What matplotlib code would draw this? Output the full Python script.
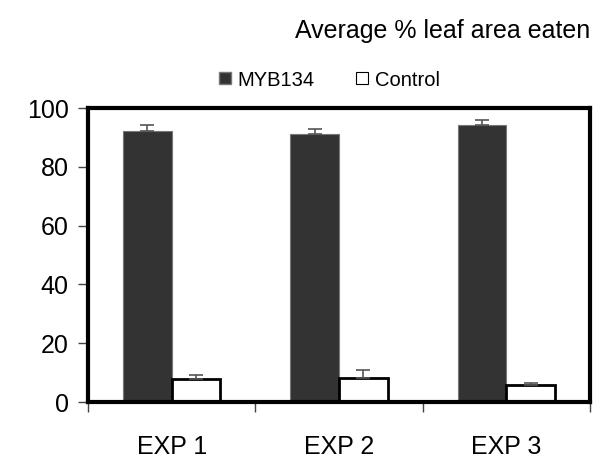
import matplotlib
matplotlib.use("Agg")
import matplotlib.pyplot as plt
from matplotlib.lines import Line2D
import numpy as np

plt.rcParams['font.family'] = ['Liberation Sans', 'DejaVu Sans']

categories = ["EXP 1", "EXP 2", "EXP 3"]
myb134 = [92.2, 91.2, 94.2]
myb134_err = [2.0, 1.8, 1.7]
control = [7.8, 8.3, 5.9]
control_err = [1.3, 2.7, 0.7]
y_ticks = [0, 20, 40, 60, 80, 100]

fig = plt.figure(figsize=(6.02, 4.59), dpi=100)
ax = fig.add_axes([88/602, 1 - 402/459, 502/602, 294/459])

x = np.arange(len(categories)) + 0.5
w = 0.29

ax.bar(x - w/2, myb134, width=w, color="#333333", edgecolor="#777777",
       linewidth=0.8, zorder=2)
ax.bar(x + w/2, control, width=w, color="white", edgecolor="black",
       linewidth=2, zorder=2)
ax.errorbar(x - w/2, myb134, yerr=[np.zeros(3), myb134_err], fmt="none",
            ecolor="#555555", elinewidth=1.2, capsize=5, capthick=1.2, zorder=3)
ax.errorbar(x + w/2, control, yerr=[np.zeros(3), control_err], fmt="none",
            ecolor="#555555", elinewidth=1.2, capsize=5, capthick=1.2, zorder=3)

ax.set_xlim(0, 3)
ax.set_ylim(0, 100)
ax.set_yticks(y_ticks)
ax.set_yticklabels([str(t) for t in y_ticks], fontsize=18)
ax.set_xticks([0, 1, 2, 3])
ax.set_xticklabels([])
ax.set_xticks(x, minor=True)
ax.set_xticklabels(categories, minor=True, fontsize=18)
ax.tick_params(axis="x", which="major", direction="out", length=7.5,
               width=1, color="#444444")
ax.tick_params(axis="x", which="minor", length=0, pad=24)
ax.tick_params(axis="y", direction="out", length=7, width=1,
               color="#444444", pad=7)
for s in ax.spines.values():
    s.set_linewidth(3)
    s.set_color("black")

fig.text(590/602, 1 - 31/459, "Average % leaf area eaten", fontsize=18,
         ha="right", va="center")

handles = [
    Line2D([], [], marker="s", linestyle="none", markersize=9,
           markerfacecolor="#333333", markeredgecolor="#777777"),
    Line2D([], [], marker="s", linestyle="none", markersize=9,
           markerfacecolor="white", markeredgecolor="black", markeredgewidth=0.8),
]
fig.legend(handles, ["MYB134", "Control"], loc="center",
           bbox_to_anchor=(329/602, 1 - 80/459), ncol=2, frameon=False,
           fontsize=14.5, handlelength=0.7, handletextpad=0.3,
           columnspacing=2.0)

fig.savefig("out.png", dpi=100)
